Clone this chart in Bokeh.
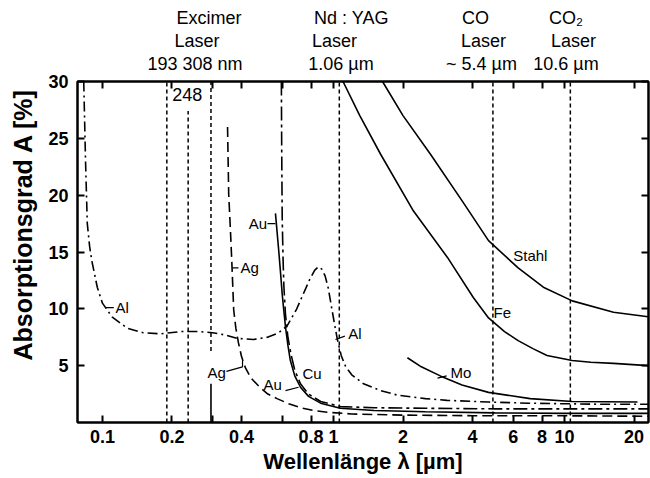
from bokeh.plotting import figure
from bokeh.models import Range1d, FixedTicker, LogAxis, LinearAxis, Label, Title
from bokeh.embed import file_html
from bokeh.resources import INLINE

FONT = "Liberation Sans"

# ---------------- data ----------------
al_x = [0.083, 0.0845, 0.086, 0.088, 0.09, 0.095, 0.1, 0.11, 0.128, 0.15, 0.178, 0.22, 0.26, 0.3,
        0.34, 0.384, 0.45, 0.518, 0.58, 0.63, 0.69, 0.74, 0.79, 0.83, 0.86, 0.89, 0.92, 0.95, 0.98,
        1.01, 1.04, 1.08, 1.13, 1.2, 1.35, 1.6, 1.9, 2.5, 3.1, 4.7, 7, 10, 15, 23]
al_y = [30, 23, 17.5, 15.5, 14.2, 11.9, 10.5, 9.3, 8.3, 7.9, 7.8, 8.0, 8.0, 7.9,
        7.7, 7.4, 7.3, 7.5, 7.9, 8.5, 9.9, 11.3, 12.6, 13.4, 13.7, 13.5, 12.9, 11.8, 10.2,
        8.7, 7.3, 5.9, 4.9, 4.2, 3.4, 2.8, 2.4, 2.1, 1.95, 1.8, 1.7, 1.65, 1.6, 1.6]

ag_x = [0.348, 0.352, 0.358, 0.363, 0.37, 0.378, 0.388, 0.40, 0.416, 0.44, 0.48, 0.52, 0.57,
        0.64, 0.72, 0.82, 0.94, 1.2, 2, 4, 8, 23]
ag_y = [26.0, 20.1, 17, 14.2, 9.9, 8.3, 7.0, 5.8, 4.8, 3.9, 3.1, 2.5, 2.1,
        1.65, 1.3, 1.05, 0.9, 0.75, 0.65, 0.6, 0.6, 0.55]
ag_uv_x = [0.295, 0.295]
ag_uv_y = [0, 3.4]

au_x = [0.561, 0.578, 0.59, 0.6, 0.61, 0.62, 0.635, 0.65, 0.68, 0.72, 0.78, 0.88, 1.07, 1.5,
        2.5, 5, 10, 23]
au_y = [18.4, 15.4, 13.2, 11.3, 9.8, 8.4, 6.8, 5.5, 4.1, 3.1, 2.3, 1.7, 1.25, 1.05,
        0.95, 0.85, 0.8, 0.8]

cu_x = [0.595, 0.597, 0.6, 0.605, 0.61, 0.62, 0.635, 0.655, 0.68, 0.72, 0.78, 0.88, 1.07, 1.5,
        2.5, 5, 10, 23]
cu_y = [30, 24, 18, 14.5, 12, 9.5, 7.5, 6.0, 4.6, 3.4, 2.5, 1.85, 1.4, 1.3,
        1.25, 1.2, 1.2, 1.2]

fe_x = [1.1, 1.3, 1.6, 2.22, 3.12, 4.03, 4.69, 5.5, 6.3, 7.3, 8.4, 10.8, 13, 16.3, 23]
fe_y = [30, 27, 23.6, 18.6, 14.5, 11.0, 9.2, 8.0, 7.2, 6.5, 5.9, 5.45, 5.3, 5.2, 5.0]

stahl_x = [1.63, 2.0, 2.63, 3.66, 4.69, 6.3, 8.1, 10.8, 16.3, 23]
stahl_y = [30, 27.0, 23.6, 19.3, 16.0, 13.6, 11.9, 10.7, 9.7, 9.3]

mo_x = [2.09, 2.4, 2.9, 3.6, 4.69, 7.1, 10.8, 20.7]
mo_y = [5.7, 4.9, 4.1, 3.3, 2.65, 2.1, 1.85, 1.8]

# laser wavelengths (vertical dotted lines, positions as drawn in the picture)
laser_x = [0.19, 0.235, 0.295, 1.06, 4.9, 10.6]
laser_y0 = [0, 0, 6.3, 0, 0, 0]
laser_y1 = [30, 27.4, 30, 30, 30, 30]

# curve labels
curve_labels = ["Al", "Ag", "Au", "Ag", "Au", "Cu", "Al", "Mo", "Fe", "Stahl"]
curve_label_x = [0.114, 0.396, 0.43, 0.285, 0.498, 0.734, 1.16, 3.21, 4.93, 6.0]
curve_label_y = [10.1, 13.6, 17.5, 4.4, 3.3, 4.3, 7.8, 4.4, 9.7, 14.7]

# label connector strokes
conn_xs = [[0.103, 0.112], [0.365, 0.388], [0.518, 0.561], [0.344, 0.404, 0.404],
           [0.62, 0.706], [1.02, 1.12], [2.82, 3.09]]
conn_ys = [[10.1, 10.1], [13.6, 13.6], [17.5, 17.5], [4.5, 4.9, 5.4],
           [2.8, 3.1], [7.3, 7.6], [3.9, 4.1]]

# header rows above the frame (centre wavelength of each text)
head_row1 = ["Excimer", "Nd : YAG", "CO", "CO₂"]
head_row1_x = [0.289, 1.196, 4.12, 10.15]
head_row2 = ["Laser", "Laser", "Laser", "Laser"]
head_row2_x = [0.2566, 1.01, 4.46, 10.94]
head_row3 = ["193  308 nm", "1.06 µm", "~ 5.4 µm", "10.6 µm"]
head_row3_x = [0.2578, 1.078, 4.37, 10.15]

x_ticks = [0.1, 0.2, 0.3, 0.4, 0.6, 0.8, 1, 2, 4, 6, 8, 10, 20]
x_tick_labels = ["0.1", "0.2", "", "0.4", "", "0.8", "1", "2", "4", "6", "8", "10", "20"]
y_ticks = [5, 10, 15, 20, 25, 30]
y_tick_labels = ["5", "10", "15", "20", "25", "30"]

# ---------------- figure ----------------
p = figure(width=650, height=478, x_axis_type="log",
           x_range=Range1d(0.078, 23.1), y_range=Range1d(0, 30),
           output_backend="svg", toolbar_location=None,
           min_border_left=77, min_border_right=2, min_border_top=81, min_border_bottom=56)
p.background_fill_color = "white"
p.border_fill_color = "white"
p.outline_line_color = "black"
p.outline_line_width = 2
p.xgrid.visible = False
p.ygrid.visible = False


def style_axis(ax, ticks, labels, show_labels=True):
    ax.ticker = FixedTicker(ticks=ticks)
    ax.major_label_overrides = {t: (l if show_labels else "") for t, l in zip(ticks, labels)}
    ax.major_tick_in = 7
    ax.major_tick_out = 0
    ax.minor_tick_line_color = None
    ax.major_tick_line_width = 2
    ax.major_tick_line_color = "black"
    ax.axis_line_width = 2
    ax.axis_line_color = "black"
    ax.major_label_text_font = FONT
    ax.major_label_text_font_style = "bold"
    ax.major_label_text_font_size = "18px" if show_labels else "1px"
    ax.major_label_text_color = "black"


xb = p.xaxis[0]
style_axis(xb, x_ticks, x_tick_labels)
xb.major_label_standoff = 7
xb.axis_label = "Wellenlänge λ [µm]"
xb.axis_label_text_font = FONT
xb.axis_label_text_font_style = "bold"
xb.axis_label_text_font_size = "22px"
xb.axis_label_text_color = "black"
xb.axis_label_standoff = 3

yl = p.yaxis[0]
style_axis(yl, y_ticks, y_tick_labels)
yl.major_label_standoff = 9

p.add_layout(Title(text="Absorptionsgrad A [%]", align="left", offset=62,
                   vertical_align="top",
                   text_font=FONT, text_font_style="bold", text_font_size="25px",
                   text_color="black", standoff=13), "left")

xt = LogAxis()
style_axis(xt, x_ticks, x_tick_labels, show_labels=False)
xt.major_label_standoff = 0
p.add_layout(xt, "above")

yr = LinearAxis()
style_axis(yr, y_ticks, y_tick_labels, show_labels=False)
yr.major_label_standoff = 0
p.add_layout(yr, "right")


def header_axis(ticks, labels, standoff):
    ax = LogAxis(ticker=FixedTicker(ticks=ticks),
                 major_label_overrides=dict(zip(ticks, labels)))
    ax.major_tick_line_color = None
    ax.major_tick_in = 0
    ax.major_tick_out = 0
    ax.minor_tick_line_color = None
    ax.axis_line_color = None
    ax.major_label_standoff = standoff
    ax.major_label_text_font = FONT
    ax.major_label_text_font_size = "18px"
    ax.major_label_text_color = "black"
    p.add_layout(ax, "above")


header_axis(head_row3_x, head_row3, 8)
header_axis(head_row2_x, head_row2, 0)
header_axis(head_row1_x, head_row1, 0)

# laser lines
p.segment(x0=laser_x, y0=laser_y0, x1=laser_x, y1=laser_y1,
          line_color="black", line_width=1.5, line_dash="4 3")

# curves
p.line(al_x, al_y, line_color="black", line_width=1.6, line_dash="10 4 2 4")
p.line(ag_x, ag_y, line_color="black", line_width=1.6, line_dash="10 5")
p.line(ag_uv_x, ag_uv_y, line_color="black", line_width=1.6)
p.line(au_x, au_y, line_color="black", line_width=1.6)
p.line(cu_x, cu_y, line_color="black", line_width=1.6, line_dash="14 4 3 4")
p.line(fe_x, fe_y, line_color="black", line_width=1.6)
p.line(stahl_x, stahl_y, line_color="black", line_width=1.6)
p.line(mo_x, mo_y, line_color="black", line_width=1.6)
p.multi_line(conn_xs, conn_ys, line_color="black", line_width=1.2)

for t, x, y in zip(curve_labels, curve_label_x, curve_label_y):
    p.add_layout(Label(x=x, y=y, text=t, text_font=FONT, text_font_size="15px",
                       text_align="left", text_baseline="middle", text_color="black"))

p.add_layout(Label(x=0.233, y=28.9, text="248", text_font=FONT, text_font_size="18px",
                   text_align="center", text_baseline="middle", text_color="black"))

open("out.html", "w").write(file_html(p, INLINE))
